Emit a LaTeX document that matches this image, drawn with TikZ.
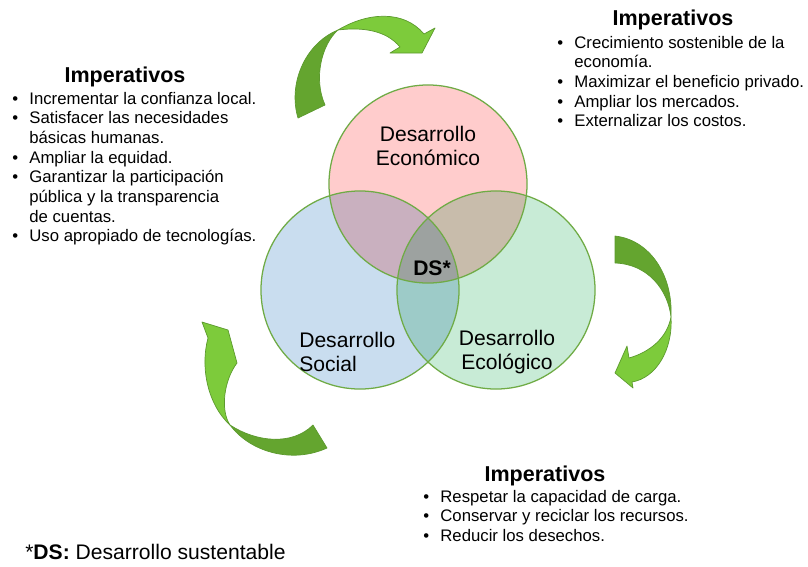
\documentclass[tikz,border=0pt]{standalone}
\usepackage{fontspec}
\setmainfont{Liberation Sans}
\usepackage{tikz}
\definecolor{rosa}{HTML}{FFCCCC}
\definecolor{celeste}{HTML}{C9DDEF}
\definecolor{menta}{HTML}{C8EBD6}
\definecolor{borde}{HTML}{6FAB45}
\definecolor{flechaclara}{HTML}{7DCB3B}
\definecolor{flechaoscura}{HTML}{64A52F}
\definecolor{flechaborde}{HTML}{5C9A2E}

\begin{document}
\begin{tikzpicture}[x=0.025cm,y=-0.025cm,
  bola/.style={circle,inner sep=0,minimum size=4.95cm},
  anillo/.style={draw=borde,line width=0.9pt},
  clara/.style={fill=flechaclara,draw=flechaborde,line width=0.5pt,line join=round},
  oscura/.style={fill=flechaoscura,draw=flechaborde,line width=0.5pt,line join=round},
  esfera/.style={align=center,font=\fontsize{15}{17.7}\selectfont},
  titulo/.style={font=\bfseries\fontsize{15.3}{18}\selectfont},
  lista/.style={anchor=north west,inner sep=0,align=left,font=\fontsize{11.9}{14}\selectfont}]
  \useasboundingbox (0,0) rectangle (808,566);
  \begin{scope}[blend group=multiply]
    \node[bola,fill=rosa] (econ) at (428,184) {};
    \node[bola,fill=celeste] (soc) at (360,290) {};
    \node[bola,fill=menta] (ecol) at (496,290) {};
  \end{scope}
  \foreach \c in {econ,soc,ecol}
    \draw[anillo] (\c.center) circle[radius=2.475cm];
  \draw[oscura] (298,118) .. controls (288,85) and (304,44) .. (338,30)
    .. controls (322,44) and (313,78) .. (325,105) -- cycle;
  \draw[clara] (338,30) .. controls (368,12) and (404,10) .. (424,34)
    -- (435,28) -- (422,53) -- (390,53) -- (400,47)
    .. controls (386,30) and (362,27) .. (338,30) -- cycle;
  \draw[oscura] (615,236) .. controls (650,240) and (673,275) .. (671,317)
    .. controls (668,290) and (648,264) .. (615,263) -- cycle;
  \draw[clara] (671,317) .. controls (673,350) and (656,378) .. (632,382)
    -- (633,388) -- (615,373) -- (627,346) -- (629,358)
    .. controls (650,352) and (667,338) .. (671,317) -- cycle;
  \draw[oscura] (230,425) .. controls (250,452) and (292,464) .. (327,448)
    -- (313,425) .. controls (292,446) and (256,442) .. (230,425) -- cycle;
  \draw[clara] (230,425) .. controls (208,405) and (200,368) .. (208,338)
    -- (202,322) -- (228,330) -- (237,363)
    .. controls (224,380) and (220,410) .. (230,425) -- cycle;
  \node[esfera] (econText) at (428,146) {Desarrollo\\Económico};
  \node[esfera,align=left,anchor=west,inner sep=0] (socText) at (299,352) {Desarrollo\\Social};
  \node[esfera] (ecolText) at (507,352) {Desarrollo\\Ecológico};
  \node[esfera,font=\bfseries\fontsize{15}{17.7}\selectfont] (ds) at (432,268) {DS*};
  \node[titulo] (titSoc) at (125,77) {Imperativos};
  \node[lista] (listaSoc) at (12,90) {\begin{tabular}{@{}l@{\hspace{8pt}}l@{}}
    \textbullet & Incrementar la confianza local.\\
    \textbullet & Satisfacer las necesidades\\
     & básicas humanas.\\
    \textbullet & Ampliar la equidad.\\
    \textbullet & Garantizar la participación\\
     & pública y la transparencia\\
     & de cuentas.\\
    \textbullet & Uso apropiado de tecnologías.
  \end{tabular}};
  \node[titulo] (titEcon) at (673,20) {Imperativos};
  \node[lista] (listaEcon) at (557,34) {\begin{tabular}{@{}l@{\hspace{8pt}}l@{}}
    \textbullet & Crecimiento sostenible de la\\
     & economía.\\
    \textbullet & Maximizar el beneficio privado.\\
    \textbullet & Ampliar los mercados.\\
    \textbullet & Externalizar los costos.
  \end{tabular}};
  \node[titulo] (titEcol) at (545,476) {Imperativos};
  \node[lista] (listaEcol) at (423,488) {\begin{tabular}{@{}l@{\hspace{8pt}}l@{}}
    \textbullet & Respetar la capacidad de carga.\\
    \textbullet & Conservar y reciclar los recursos.\\
    \textbullet & Reducir los desechos.
  \end{tabular}};
  \node[anchor=west,inner sep=0,font=\fontsize{15}{18}\selectfont] (nota) at (25,552) {*\textbf{DS:} Desarrollo sustentable};
\end{tikzpicture}
\end{document}
